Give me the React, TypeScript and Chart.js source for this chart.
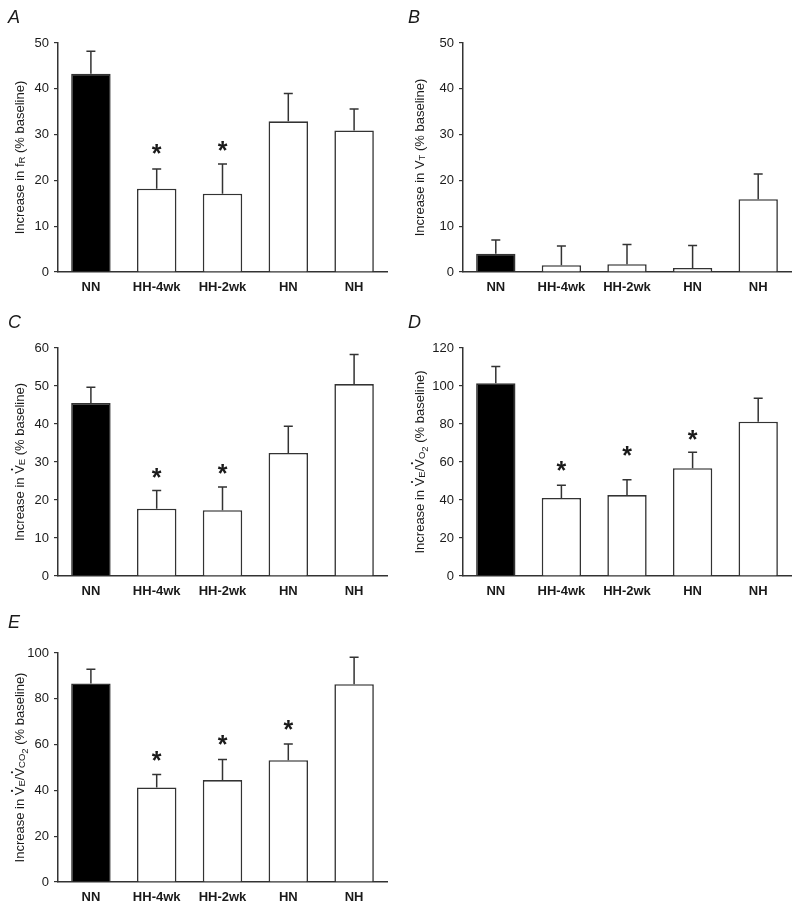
import React, { useEffect, useRef } from 'react';
import { Chart, registerables } from 'chart.js';

Chart.register(...registerables);

const FONT = "'Liberation Sans', Arial, sans-serif";
const INK = '#1a1a1a';
const LINE = '#333333';

const categories = ['NN', 'HH-4wk', 'HH-2wk', 'HN', 'NH'];
const barFills = ['#000000', '#ffffff', '#ffffff', '#ffffff', '#ffffff'];

// Panel A: respiratory frequency
const fRMeans = [43.3, 18.2, 17.1, 32.9, 30.9];
const fRSems = [4.9, 4.3, 6.5, 6.1, 4.7];
const fRStars = [null, 27.1, 27.9, null, null];
const fRTicks = { max: 50, step: 10 };

// Panel B: tidal volume
const vtMeans = [4.0, 1.5, 1.7, 0.9, 15.9];
const vtSems = [3.0, 4.2, 4.3, 4.9, 5.5];
const vtStars = [null, null, null, null, null];
const vtTicks = { max: 50, step: 10 };

// Panel C: minute ventilation
const veMeans = [45.5, 17.7, 17.3, 32.4, 50.5];
const veSems = [4.2, 4.8, 6.1, 7.0, 7.8];
const veStars = [null, 27.4, 28.5, null, null];
const veTicks = { max: 60, step: 10 };

// Panel D: VE/VO2
const veVo2Means = [101.4, 41.1, 42.6, 56.7, 81.2];
const veVo2Sems = [8.8, 6.6, 8.1, 8.4, 12.3];
const veVo2Stars = [null, 58.4, 66.7, 74.7, null];
const veVo2Ticks = { max: 120, step: 20 };

// Panel E: VE/VCO2
const veVco2Means = [86.7, 41.3, 44.5, 53.2, 86.4];
const veVco2Sems = [6.2, 5.6, 9.0, 7.1, 11.7];
const veVco2Stars = [null, 55.5, 62.6, 69.3, null];
const veVco2Ticks = { max: 100, step: 20 };

type Seg = { t: string; lvl?: number; dot?: boolean };

const titleA: Seg[] = [{ t: 'Increase in f' }, { t: 'R', lvl: 1 }, { t: ' (% baseline)' }];
const titleB: Seg[] = [{ t: 'Increase in V' }, { t: 'T', lvl: 1 }, { t: ' (% baseline)' }];
const titleC: Seg[] = [{ t: 'Increase in ' }, { t: 'V', dot: true }, { t: 'E', lvl: 1 }, { t: ' (% baseline)' }];
const titleD: Seg[] = [
  { t: 'Increase in ' }, { t: 'V', dot: true }, { t: 'E', lvl: 1 }, { t: '/' },
  { t: 'V', dot: true }, { t: 'O', lvl: 1 }, { t: '2', lvl: 2 }, { t: ' (% baseline)' },
];
const titleE: Seg[] = [
  { t: 'Increase in ' }, { t: 'V', dot: true }, { t: 'E', lvl: 1 }, { t: '/' },
  { t: 'V', dot: true }, { t: 'CO', lvl: 1 }, { t: '2', lvl: 2 }, { t: ' (% baseline)' },
];

type Box = { left: number; top: number; w: number; h: number };
type Area = { l: number; t: number; r: number; b: number };

type PanelProps = {
  letter: string;
  means: number[];
  sems: number[];
  stars: (number | null)[];
  ticks: { max: number; step: number };
  title: Seg[];
  box: Box;
  area: Area;
};

function segFont(lvl?: number) {
  return lvl ? `9.5px ${FONT}` : `13px ${FONT}`;
}
function segDy(lvl?: number) {
  if (lvl === 1) return 1.2;
  if (lvl === 2) return 3.5;
  return 0;
}

function Panel({ letter, means, sems, stars, ticks, title, box, area }: PanelProps) {
  const ref = useRef<HTMLCanvasElement | null>(null);

  useEffect(() => {
    if (!ref.current) return;
    const overlay = {
      id: 'overlay',
      afterDatasetsDraw(chart: any) {
        const ctx = chart.ctx as CanvasRenderingContext2D;
        const meta = chart.getDatasetMeta(0);
        const ys = chart.scales.y;
        ctx.save();
        ctx.strokeStyle = LINE;
        ctx.lineWidth = 1.5;
        meta.data.forEach((bar: any, i: number) => {
          const x = bar.x;
          const yBar = ys.getPixelForValue(means[i]);
          const yTop = ys.getPixelForValue(means[i] + sems[i]);
          ctx.beginPath();
          ctx.moveTo(x, yBar);
          ctx.lineTo(x, yTop);
          ctx.moveTo(x - 4.5, yTop);
          ctx.lineTo(x + 4.5, yTop);
          ctx.stroke();
          const s = stars[i];
          if (s !== null && s !== undefined) {
            ctx.fillStyle = INK;
            ctx.font = `bold 25px ${FONT}`;
            ctx.textAlign = 'center';
            ctx.textBaseline = 'alphabetic';
            ctx.fillText('*', x, ys.getPixelForValue(s) + 14.3);
          }
        });
        ctx.restore();
      },
      afterDraw(chart: any) {
        const ctx = chart.ctx as CanvasRenderingContext2D;
        const ca = chart.chartArea;
        const cy = (ca.top + ca.bottom) / 2;
        ctx.save();
        ctx.fillStyle = INK;
        ctx.textBaseline = 'alphabetic';
        ctx.textAlign = 'left';
        let total = 0;
        const widths = title.map((sg) => {
          ctx.font = segFont(sg.lvl);
          const w = ctx.measureText(sg.t).width;
          total += w;
          return w;
        });
        ctx.translate(24, cy);
        ctx.rotate(-Math.PI / 2);
        let x = -total / 2;
        title.forEach((sg, i) => {
          ctx.font = segFont(sg.lvl);
          ctx.fillText(sg.t, x, segDy(sg.lvl));
          if (sg.dot) {
            ctx.beginPath();
            ctx.arc(x + widths[i] / 2, -12, 1.1, 0, Math.PI * 2);
            ctx.fill();
          }
          x += widths[i];
        });
        ctx.restore();
      },
    };

    const chart = new Chart(ref.current, {
      type: 'bar',
      data: {
        labels: categories,
        datasets: [
          {
            data: means,
            backgroundColor: barFills,
            borderColor: LINE,
            borderWidth: 1.6,
            barPercentage: 0.6,
            categoryPercentage: 1,
          },
        ],
      },
      options: {
        responsive: false,
        animation: false,
        devicePixelRatio: 1,
        layout: {
          padding: {
            top: area.t - box.top,
            right: box.left + box.w - area.r,
            left: 0,
            bottom: 0,
          },
        },
        plugins: { legend: { display: false }, tooltip: { enabled: false } },
        scales: {
          x: {
            type: 'category',
            offset: true,
            grid: { display: false, drawTicks: false },
            border: { display: true, color: LINE, width: 1.5 },
            ticks: {
              font: { family: FONT, size: 13, weight: 'bold' },
              color: INK,
              padding: 8,
              maxRotation: 0,
              autoSkip: false,
            },
            afterFit: (s: any) => {
              s.height = box.top + box.h - area.b;
            },
          },
          y: {
            min: 0,
            max: ticks.max,
            ticks: {
              stepSize: ticks.step,
              font: { family: FONT, size: 13 },
              color: INK,
              padding: 5,
            },
            grid: {
              display: true,
              drawOnChartArea: false,
              drawTicks: true,
              tickLength: 4,
              color: LINE,
              lineWidth: 1.2,
            },
            border: { display: true, color: LINE, width: 1.5 },
            afterFit: (s: any) => {
              s.width = area.l - box.left;
            },
          },
        },
      } as any,
      plugins: [overlay],
    });
    return () => chart.destroy();
  }, []);

  return (
    <div style={{ position: 'absolute', left: box.left, top: box.top, width: box.w, height: box.h }}>
      <canvas ref={ref} width={box.w} height={box.h} style={{ display: 'block' }} />
      <div
        style={{
          position: 'absolute',
          left: 8,
          top: 8,
          fontFamily: FONT,
          fontStyle: 'italic',
          fontSize: 18,
          lineHeight: 1,
          color: INK,
        }}
      >
        {letter}
      </div>
    </div>
  );
}

export default function App() {
  return (
    <div style={{ position: 'absolute', left: 0, top: 0, width: 800, height: 909, background: '#fff' }}>
      <Panel letter="A" means={fRMeans} sems={fRSems} stars={fRStars} ticks={fRTicks} title={titleA}
        box={{ left: 0, top: 0, w: 400, h: 300 }} area={{ l: 58, t: 43, r: 387, b: 272 }} />
      <Panel letter="B" means={vtMeans} sems={vtSems} stars={vtStars} ticks={vtTicks} title={titleB}
        box={{ left: 400, top: 0, w: 400, h: 300 }} area={{ l: 463, t: 43, r: 791, b: 272 }} />
      <Panel letter="C" means={veMeans} sems={veSems} stars={veStars} ticks={veTicks} title={titleC}
        box={{ left: 0, top: 305, w: 400, h: 300 }} area={{ l: 58, t: 348, r: 387, b: 576 }} />
      <Panel letter="D" means={veVo2Means} sems={veVo2Sems} stars={veVo2Stars} ticks={veVo2Ticks} title={titleD}
        box={{ left: 400, top: 305, w: 400, h: 300 }} area={{ l: 463, t: 348, r: 791, b: 576 }} />
      <Panel letter="E" means={veVco2Means} sems={veVco2Sems} stars={veVco2Stars} ticks={veVco2Ticks} title={titleE}
        box={{ left: 0, top: 605, w: 400, h: 304 }} area={{ l: 58, t: 653, r: 387, b: 882 }} />
    </div>
  );
}
